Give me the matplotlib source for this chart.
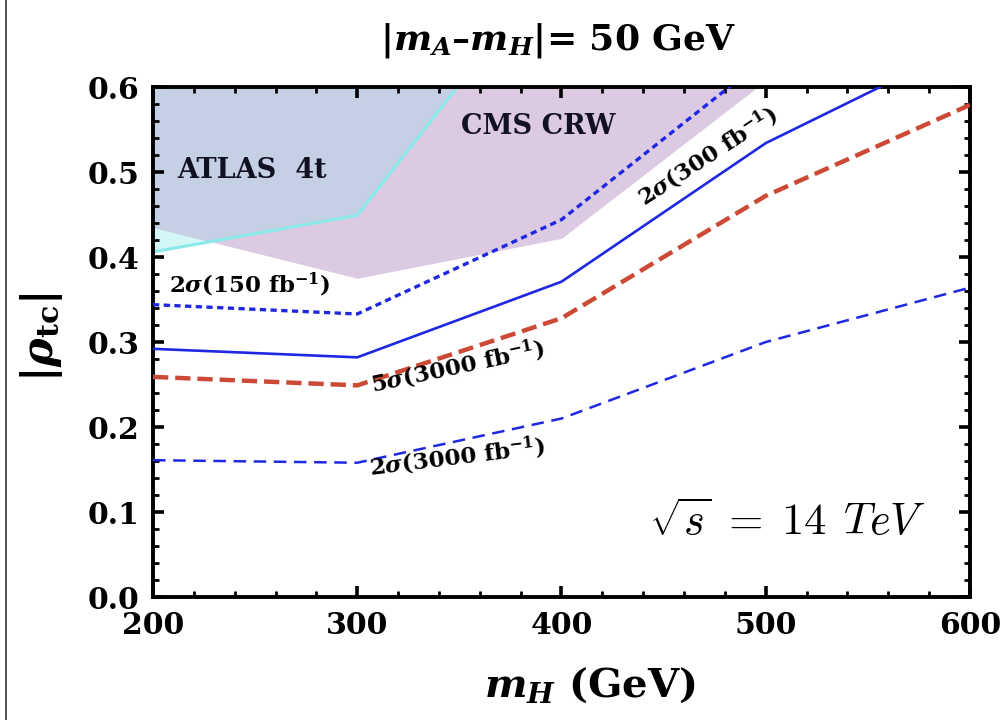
import numpy as np
import matplotlib
matplotlib.use("Agg")
import matplotlib.pyplot as plt
from matplotlib.lines import Line2D

plt.rcParams['font.family'] = ['DejaVu Serif']
plt.rcParams['font.weight'] = 'bold'
plt.rcParams['mathtext.fontset'] = 'custom'
plt.rcParams['mathtext.rm'] = 'DejaVu Serif:bold'
plt.rcParams['mathtext.it'] = 'DejaVu Serif:italic:bold'
plt.rcParams['mathtext.bf'] = 'DejaVu Serif:bold'
plt.rcParams['lines.scale_dashes'] = False

# ---------------- data ----------------
mH = [200, 300, 400, 500, 600]
sig2_150 = [0.344, 0.333, 0.444, 0.634, 0.80]
sig2_300 = [0.292, 0.282, 0.371, 0.534, 0.652]
sig5_3000 = [0.259, 0.249, 0.328, 0.472, 0.579]
sig2_3000 = [0.161, 0.158, 0.210, 0.300, 0.364]

atlas_x = [200, 300, 349, 600]
atlas_y = [0.406, 0.449, 0.600, 0.600]
cms_x = [200, 300, 400, 496, 600]
cms_y = [0.435, 0.375, 0.422, 0.600, 0.600]

xticks = [200, 300, 400, 500, 600]
yticks = [0.0, 0.1, 0.2, 0.3, 0.4, 0.5, 0.6]

# ---------------- figure ----------------
fig = plt.figure(figsize=(10.04, 7.2), dpi=100)
ax = fig.add_axes([0.1524, 0.1708, 0.8137, 0.7083])
ax.set_xlim(200, 600)
ax.set_ylim(0, 0.6)

xg = np.linspace(200, 600, 4001)
a_low = np.interp(xg, atlas_x, atlas_y)
c_low = np.interp(xg, cms_x, cms_y)
top = 0.6
ax.fill_between(xg, a_low, top, where=a_low < top, color='#d3f6f6', lw=0, zorder=1)
ax.fill_between(xg, c_low, top, where=c_low < top, color='#dccae3', lw=0, zorder=1.1)
ov = np.maximum(a_low, c_low)
ax.fill_between(xg, ov, top, where=ov < top, color='#c5d0e4', lw=0, zorder=1.2)
ax.plot(atlas_x[:3], atlas_y[:3], color='#8aeaea', lw=2.2, zorder=2)

blue = '#1e28e0'
red = '#cc4a35'
ax.plot(mH, sig2_150, color=blue, lw=2.4, dashes=(4.5, 3.2), zorder=3)
ax.plot(mH, sig2_300, color=blue, lw=1.9, zorder=3)
ax.plot(mH, sig5_3000, color=red, lw=3.2, dashes=(11, 5), zorder=3)
ax.plot(mH, sig2_3000, color=blue, lw=1.8, dashes=(9, 5.5), zorder=3)

# labels inside
ax.text(212, 0.502, 'ATLAS  4t', fontsize=19.5, fontweight='bold', ha='left', va='center', color='#111122', zorder=4)
ax.text(351, 0.553, 'CMS CRW', fontsize=19.5, fontweight='bold', ha='left', va='center', color='#111122', zorder=4)
ax.text(208, 0.367, r'2$\sigma$(150 fb$^{-1}$)', fontsize=16.5, ha='left', va='center', zorder=4)
ax.text(471.5, 0.518, r'2$\sigma$(300 fb$^{-1}$)', fontsize=16.5, ha='center', va='center',
        rotation=33, rotation_mode='anchor', zorder=4)
ax.text(349, 0.271, r'5$\sigma$(3000 fb$^{-1}$)', fontsize=16.5, ha='center', va='center',
        rotation=12, rotation_mode='anchor', zorder=4)
ax.text(349, 0.164, r'2$\sigma$(3000 fb$^{-1}$)', fontsize=16.5, ha='center', va='center',
        rotation=7, rotation_mode='anchor', zorder=4)
ax.text(510.5, 0.088, r'$\sqrt{s}\;=\;14\;\,TeV$', fontsize=32, ha='center', va='center',
        math_fontfamily='cm', fontweight='normal', zorder=4)

# ticks
ax.set_xticks(xticks)
ax.set_xticklabels([str(v) for v in xticks])
ax.set_yticks(yticks)
ax.set_yticklabels(['%.1f' % v for v in yticks])
ax.set_xticks(np.arange(200, 601, 20), minor=True)
ax.set_yticks(np.arange(0, 0.6001, 0.02), minor=True)
ax.tick_params(which='both', direction='in', top=True, right=True, color='black')
ax.tick_params(which='major', length=8, width=2.6, labelsize=21.5)
ax.tick_params(axis='x', which='major', pad=10)
ax.tick_params(axis='y', which='major', pad=10)
ax.tick_params(which='minor', length=4, width=2.0)
for lab in ax.get_xticklabels() + ax.get_yticklabels():
    lab.set_fontweight('bold')
for sp in ax.spines.values():
    sp.set_linewidth(2.8)

ax.set_xlabel(r'$m_H$ (GeV)', fontsize=29, fontweight='bold')
ax.xaxis.set_label_coords(0.535, -0.135)
ax.set_ylabel(r'$|\rho_{\mathbf{tc}}|$', fontsize=31, fontweight='bold')
ax.yaxis.set_label_coords(-0.108, 0.51)
fig.text(558 / 1004, 1 - 41 / 720, r'$|m_A$–$m_H|$= 50 GeV', fontsize=26, fontweight='bold',
         ha='center', va='center')

fig.add_artist(Line2D([6 / 1004, 6 / 1004], [0, 1], transform=fig.transFigure, color='#333333', lw=1.2))

fig.savefig('out.png', dpi=100)
